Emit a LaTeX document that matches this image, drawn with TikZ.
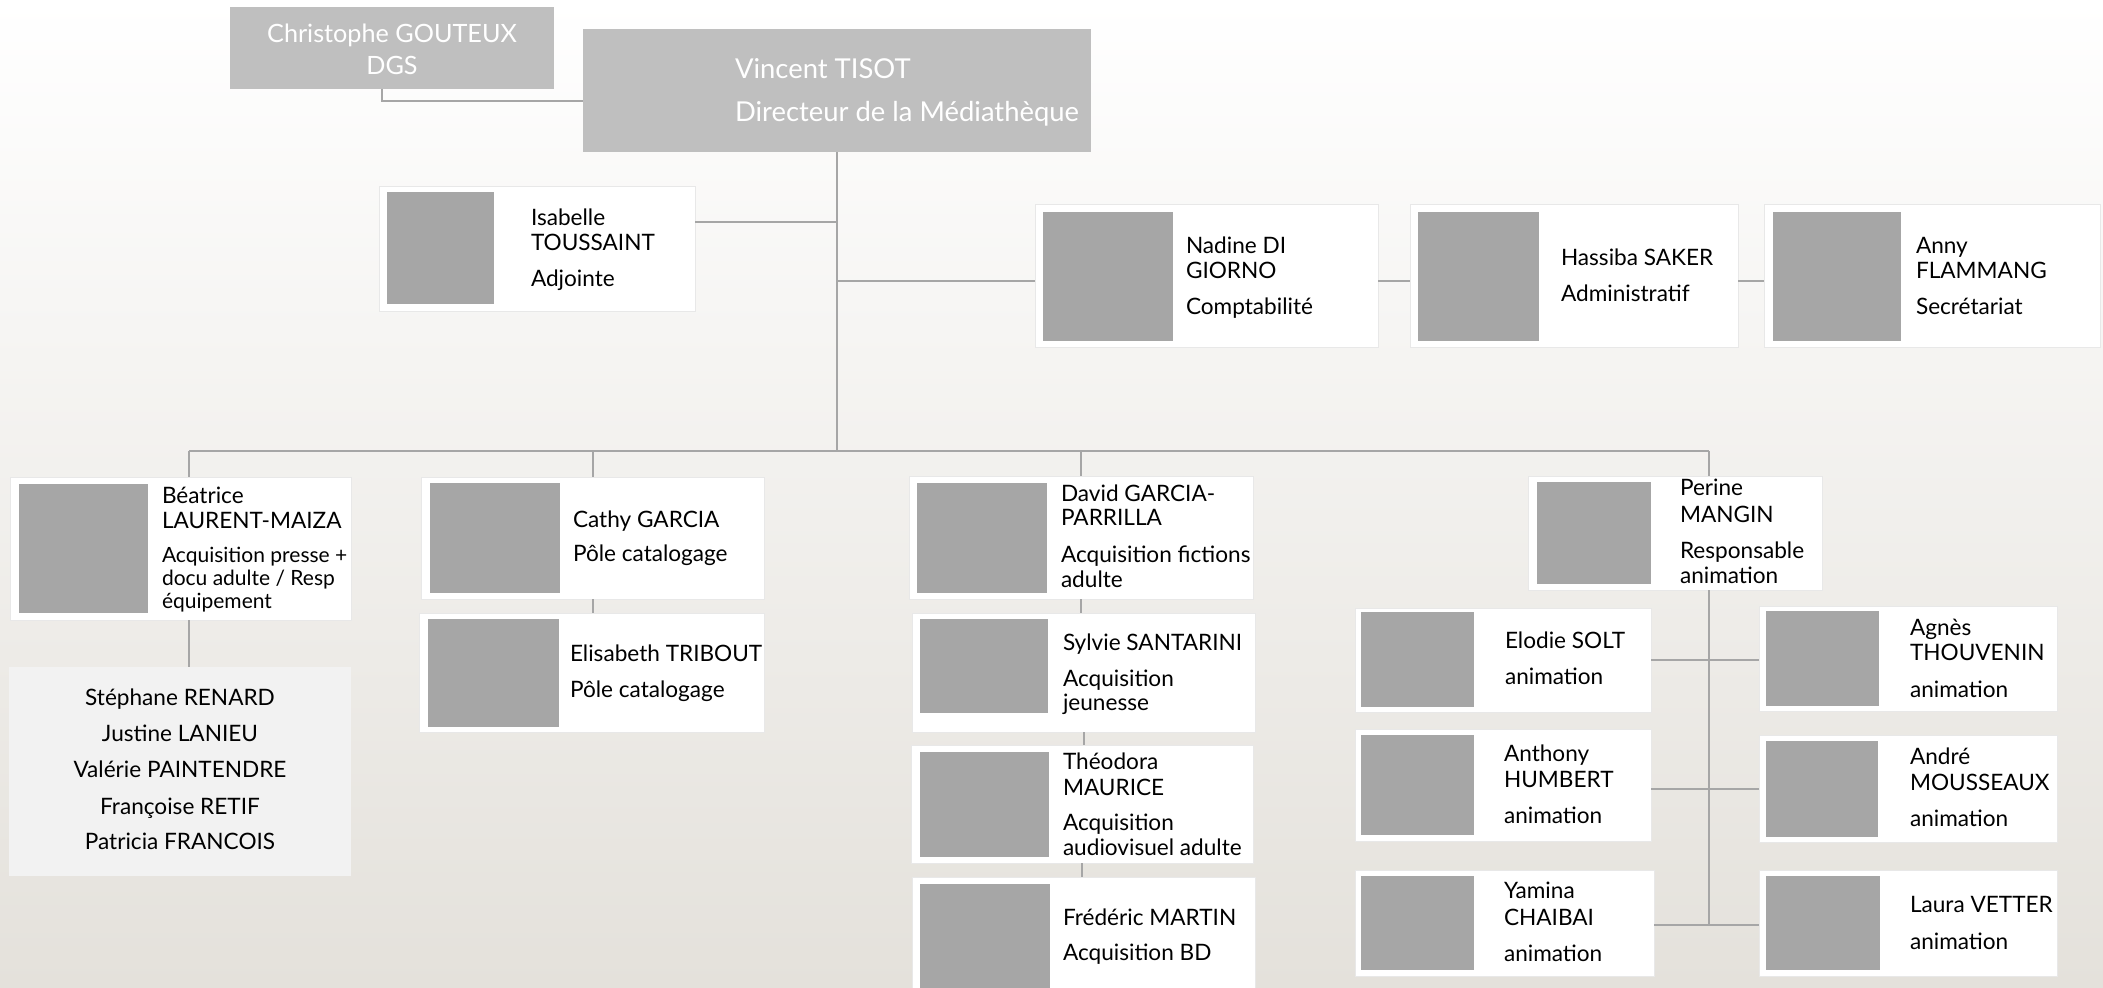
\documentclass[tikz,border=0pt]{standalone}
\usepackage{fontspec}
\setmainfont{Lato}
\definecolor{bgb}{RGB}{228,225,219}
\definecolor{hdr}{RGB}{191,191,191}
\definecolor{pho}{RGB}{166,166,166}
\definecolor{lin}{RGB}{166,166,166}
\definecolor{teamc}{RGB}{242,242,242}
\definecolor{edgec}{RGB}{232,232,232}
\newcommand\card[9]{%
 \node[cardbox, minimum width={(#4-#2)*0.5pt}, minimum height={(#5-#3)*0.5pt}] (#1) at ({(#2+#4)/2},{(#3+#5)/2}) {};
 \node[photo, minimum width={(#8-#6)*0.5pt}, minimum height={(#9-#7)*0.5pt}] (#1p) at ({(#6+#8)/2},{(#7+#9)/2}) {};}
\newcommand\stk[2]{\vtop{\baselineskip=#1\lineskiplimit=-20pt\lineskip=0pt #2}}
\newcommand\hl[1]{\hbox{#1}}
\tikzset{
 cardbox/.style={rectangle, fill=white, draw=edgec, line width=0.5pt, inner sep=0pt, outer sep=0pt},
 photo/.style={rectangle, fill=pho, inner sep=0pt, outer sep=0pt},
 hdrbox/.style={rectangle, fill=hdr, inner sep=0pt, outer sep=0pt},
 teambox/.style={rectangle, fill=teamc, inner sep=0pt, outer sep=0pt},
 txt/.style={inner sep=0pt, outer sep=0pt, anchor=base west, font=\fontsize{11.3}{13}\selectfont, text=black},
 rtxt/.style={txt, font=\fontsize{10.5}{12}\selectfont},
 ctxt/.style={txt, anchor=base},
 htxt/.style={inner sep=0pt, outer sep=0pt, text=white},
 conn/.style={draw=lin, line width=1pt}
}
\begin{document}
\begin{tikzpicture}[x=0.5pt, y=-0.5pt]
\useasboundingbox (0,0) rectangle (2103,987);
\clip (0,0) rectangle (2103,987);
\shade[top color=white, bottom color=bgb] (0,0) rectangle (2103,987);

% headers
\node[hdrbox, minimum width=162pt, minimum height=41pt] (chr) at (392,48) {};
\node[htxt, anchor=base, font=\fontsize{12.6}{14}\selectfont] (chrn) at (392,42.7) {Christophe GOUTEUX};
\node[htxt, anchor=base, font=\fontsize{12.6}{14}\selectfont] (chrr) at (392,74) {DGS};
\node[hdrbox, minimum width=254pt, minimum height=61.5pt] (vin) at (837,90.5) {};
\node[htxt, anchor=base west, font=\fontsize{13.7}{16}\selectfont] (vinn) at (735,78.3) {Vincent TISOT};
\node[htxt, anchor=base west, font=\fontsize{13.7}{16}\selectfont] (vinr) at (735,121.7) {Directeur de la Médiathèque};

% cards
\card{isa}{379}{186}{695}{311}{387}{192}{494}{304}
\node[txt] (isan) at (531,225) {\stk{12.75pt}{\hl{Isabelle}\hl{TOUSSAINT}}};
\node[txt] (isar) at (531,286) {Adjointe};

\card{nad}{1035}{204}{1378}{347}{1043}{212}{1173}{341}
\node[txt] (nadn) at (1186,253) {\stk{12.5pt}{\hl{Nadine DI}\hl{GIORNO}}};
\node[txt] (nadr) at (1186,314) {Comptabilité};

\card{has}{1410}{204}{1738}{347}{1418}{212}{1539}{341}
\node[txt] (hasn) at (1561,265) {Hassiba SAKER};
\node[txt] (hasr) at (1561,301.7) {Administratif};

\card{any}{1764}{204}{2100}{347}{1773}{212}{1901}{341}
\node[txt] (anyn) at (1916,253) {\stk{12.5pt}{\hl{Anny}\hl{FLAMMANG}}};
\node[txt] (anyr) at (1916,314) {Secrétariat};

\card{bea}{10}{477}{351}{620}{19}{484}{148}{613}
\node[txt] (bean) at (162,503.3) {\stk{12.5pt}{\hl{Béatrice}\hl{LAURENT-MAIZA}}};
\node[rtxt] (bear) at (162,562.7) {\stk{11.5pt}{\hl{Acquisition presse +}\hl{docu adulte / Resp}\hl{équipement}}};

\node[teambox, minimum width=171pt, minimum height=104.5pt] (team) at (180,771.5) {};
\node[ctxt] (t1) at (180,705.7) {Stéphane RENARD};
\node[ctxt] (t2) at (180,741.7) {Justine LANIEU};
\node[ctxt] (t3) at (180,777.3) {Valérie PAINTENDRE};
\node[ctxt] (t4) at (180,814) {Françoise RETIF};
\node[ctxt] (t5) at (180,849.3) {Patricia FRANCOIS};

\card{cat}{421}{477}{764}{599}{430}{483}{560}{593}
\node[txt] (catn) at (573,527) {Cathy GARCIA};
\node[txt] (catr) at (573,561.7) {Pôle catalogage};

\card{eli}{419}{613}{764}{732}{428}{619}{559}{727}
\node[txt] (elin) at (570,661.7) {Elisabeth TRIBOUT};
\node[txt] (elir) at (570,697.7) {Pôle catalogage};

\card{dav}{909}{476}{1253}{599}{917}{483}{1047}{593}
\node[txt] (davn) at (1061,501) {\stk{12.25pt}{\hl{David GARCIA-}\hl{PARRILLA}}};
\node[txt] (davr) at (1061,562.8) {\stk{12.1pt}{\hl{Acquisition fictions}\hl{adulte}}};

\card{syl}{912}{613}{1255}{732}{920}{619}{1048}{713}
\node[txt] (syln) at (1063,650) {Sylvie SANTARINI};
\node[txt] (sylr) at (1063,686) {\stk{12pt}{\hl{Acquisition}\hl{jeunesse}}};

\card{the}{911}{745}{1253}{863}{920}{752}{1049}{857}
\node[txt] (then) at (1063,769) {\stk{13pt}{\hl{Théodora}\hl{MAURICE}}};
\node[txt] (ther) at (1063,830.7) {\stk{12.3pt}{\hl{Acquisition}\hl{audiovisuel adulte}}};

\card{fre}{912}{877}{1255}{1000}{920}{884}{1050}{1000}
\node[txt] (fren) at (1063,925) {Frédéric MARTIN};
\node[txt] (frer) at (1063,960.7) {Acquisition BD};

\card{per}{1528}{476}{1822}{590}{1537}{482}{1651}{584}
\node[txt] (pern) at (1680,495.8) {\stk{13.4pt}{\hl{Perine}\hl{MANGIN}}};
\node[txt] (perr) at (1680,558.6) {\stk{12.6pt}{\hl{Responsable}\hl{animation}}};

\card{elo}{1355}{608}{1651}{712}{1361}{612}{1474}{707}
\node[txt] (elon) at (1505,648.7) {Elodie SOLT};
\node[txt] (elor) at (1505,684) {animation};

\card{agn}{1759}{606}{2057}{711}{1766}{611}{1879}{706}
\node[txt] (agnn) at (1910,635) {\stk{12.75pt}{\hl{Agnès}\hl{THOUVENIN}}};
\node[txt] (agnr) at (1910,697.5) {animation};

\card{ant}{1355}{729}{1651}{841}{1361}{735}{1474}{835}
\node[txt] (antn) at (1504,761.7) {\stk{13.1pt}{\hl{Anthony}\hl{HUMBERT}}};
\node[txt] (antr) at (1504,823.8) {animation};

\card{and}{1759}{735}{2057}{842}{1766}{741}{1878}{837}
\node[txt] (andn) at (1910,764.5) {\stk{13.1pt}{\hl{André}\hl{MOUSSEAUX}}};
\node[txt] (andr) at (1910,826.6) {animation};

\card{yam}{1355}{870}{1654}{976}{1361}{876}{1474}{970}
\node[txt] (yamn) at (1504,898.8) {\stk{13.1pt}{\hl{Yamina}\hl{CHAIBAI}}};
\node[txt] (yamr) at (1504,961.6) {animation};

\card{lau}{1759}{870}{2057}{976}{1766}{876}{1880}{970}
\node[txt] (laun) at (1910,912.8) {Laura VETTER};
\node[txt] (laur) at (1910,949.4) {animation};

% connectors
\coordinate (chrC) at (382,101);
\draw[conn] (chrC |- chr.south) -- (chrC) -- (chrC -| vin.west);
\coordinate (busL) at (189,451);
\coordinate (busR) at (1709,451);
\coordinate (isaC) at (837,222);
\coordinate (nadC) at (837,281);
\draw[conn] (vin.south) -- (vin.south |- busL);
\draw[conn] (busL) -- (busR);
\draw[conn] (isa.east |- isaC) -- (isaC);
\draw[conn] (nadC) -- (nadC -| nad.west);
\draw[conn] (nad.east |- nadC) -- (nadC -| has.west);
\draw[conn] (has.east |- nadC) -- (nadC -| any.west);
\draw[conn] (busL) -- (busL |- bea.north);
\draw[conn] (busL |- bea.south) -- (busL |- team.north);
\draw[conn] (cat.north |- busL) -- (cat.north);
\draw[conn] (cat.south) -- (cat.south |- eli.north);
\draw[conn] (dav.north |- busL) -- (dav.north);
\draw[conn] (dav.south) -- (dav.south |- syl.north);
\draw[conn] (syl.south) -- (syl.south |- the.north);
\draw[conn] (the.south) -- (the.south |- fre.north);
\draw[conn] (busR) -- (busR |- per.north);
\coordinate (perB) at (1709,925);
\draw[conn] (busR |- per.south) -- (perB);
\draw[conn] (elo.east) -- (elo.east -| agn.west);
\draw[conn] (and.west -| ant.east) -- (and.west);
\draw[conn] (yam.east |- perB) -- (perB -| lau.west);
\end{tikzpicture}
\end{document}
